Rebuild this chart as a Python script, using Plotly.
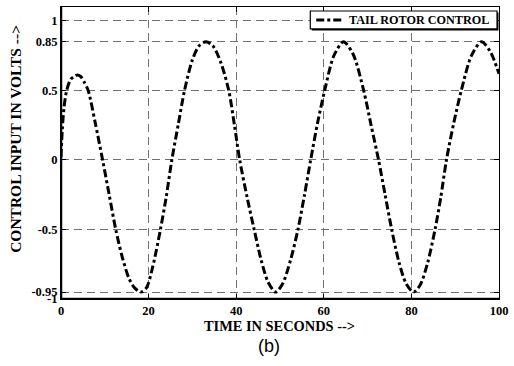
import plotly.graph_objects as go

# Tail rotor control input (volts) sampled over time (seconds)
time_s = [0.0, 0.3, 0.7, 1.3, 2.2, 3.0, 3.6, 4.5, 5.3, 6.2, 7.8, 9.5, 11.0, 12.5,
          14.0, 15.5, 16.8, 18.2, 19.5, 21.0, 22.7, 24.0, 25.3, 26.8, 28.2, 30.0,
          31.5, 33.1, 34.7, 36.5, 38.3, 39.6, 40.8, 42.5, 44.1, 45.7, 47.3, 49.0,
          50.6, 52.4, 54.1, 55.6, 57.0, 58.6, 60.2, 62.3, 64.5, 66.7, 69.1, 70.8,
          72.5, 74.0, 75.5, 77.2, 78.8, 80.5, 82.0, 83.7, 85.4, 86.7, 88.0, 89.7,
          91.4, 93.7, 96.0, 98.0, 100.0]
control_v = [0.02, 0.22, 0.38, 0.50, 0.58, 0.60, 0.61, 0.60, 0.56, 0.50, 0.27, 0.00,
             -0.25, -0.50, -0.70, -0.85, -0.92, -0.95, -0.92, -0.76, -0.50, -0.27,
             0.00, 0.26, 0.50, 0.72, 0.82, 0.85, 0.82, 0.70, 0.50, 0.25, 0.00,
             -0.27, -0.50, -0.72, -0.88, -0.95, -0.89, -0.72, -0.50, -0.25, 0.00,
             0.27, 0.50, 0.75, 0.85, 0.76, 0.50, 0.25, 0.00, -0.25, -0.50, -0.74,
             -0.89, -0.95, -0.90, -0.74, -0.50, -0.27, 0.00, 0.27, 0.50, 0.75,
             0.85, 0.78, 0.62]

y_ticks = [-1, -0.95, -0.5, 0, 0.5, 0.85, 1]
y_tick_text = ["-1", "-0.95", "-0.5", "0", "0.5", "0.85", "1"]
x_ticks = [0, 20, 40, 60, 80, 100]
x_tick_text = ["0", "20", "40", "60", "80", "100"]
series_name = "TAIL ROTOR CONTROL"

SERIF = "Liberation Serif"
LINE_STYLE = dict(color="black", width=3, dash="8px,3px,3px,3px")


def bold(s):
    return "<b>" + s + "</b>"


fig = go.Figure()
fig.add_trace(go.Scatter(
    x=time_s, y=control_v, mode="lines", name=series_name, showlegend=False,
    line=dict(**LINE_STYLE, shape="spline", smoothing=0.8),
))

grid = dict(showgrid=True, gridcolor="#707070", gridwidth=1, griddash="8px,5px")

fig.update_layout(
    width=514, height=366,
    margin=dict(l=61, r=12, t=6, b=67),
    paper_bgcolor="white", plot_bgcolor="white",
    font=dict(family=SERIF, color="black", size=12),
    xaxis=dict(
        range=[0, 100], tickmode="array", tickvals=x_ticks,
        ticktext=[bold(t) for t in x_tick_text],
        ticks="inside", ticklen=5, tickcolor="black", tickwidth=1,
        showline=True, linecolor="black", linewidth=1, mirror="allticks",
        tickfont=dict(family=SERIF, size=12.5, color="black"),
        zeroline=False, **grid,
    ),
    yaxis=dict(
        range=[-1, 1.1], tickmode="array", tickvals=y_ticks,
        ticktext=[bold(t) for t in y_tick_text],
        ticks="inside", ticklen=5, tickcolor="black", tickwidth=1,
        showline=True, linecolor="black", linewidth=1, mirror="allticks",
        tickfont=dict(family=SERIF, size=12.5, color="black"),
        zeroline=False, **grid,
    ),
)

# heavier left and bottom axis lines
fig.add_shape(type="line", xref="x", yref="paper", x0=0, x1=0, y0=0, y1=1,
              line=dict(color="black", width=2.5), layer="above")
fig.add_shape(type="line", xref="paper", yref="y", x0=0, x1=1, y0=-1, y1=-1,
              line=dict(color="black", width=2.5), layer="above")


# pixel -> paper helpers for the plot area (61..502 x, 6..299 y)
def px_x(p):
    return (p - 61) / 441


def px_y(p):
    return (299 - p) / 293


# legend box (with a small drop shadow), sample line and label
fig.add_shape(type="rect", xref="paper", yref="paper",
              x0=px_x(313.5), x1=px_x(501.5), y0=px_y(29.5), y1=px_y(11.5),
              fillcolor="black", line=dict(width=0), layer="above")
fig.add_shape(type="rect", xref="paper", yref="paper",
              x0=px_x(312), x1=px_x(500), y0=px_y(28), y1=px_y(10),
              fillcolor="white", line=dict(color="black", width=1.2), layer="above")
fig.add_shape(type="line", xref="paper", yref="paper",
              x0=px_x(318), x1=px_x(345), y0=px_y(19), y1=px_y(19),
              line=LINE_STYLE, layer="above")
fig.add_annotation(text=bold(series_name), xref="paper", yref="paper",
                   x=px_x(349), y=px_y(19.5), showarrow=False,
                   xanchor="left", yanchor="middle",
                   font=dict(family=SERIF, size=12.2, color="black"))

fig.add_annotation(text=bold("TIME IN SECONDS -->"), xref="paper", yref="paper",
                   x=px_x(281), y=px_y(326), showarrow=False, xanchor="center", yanchor="middle",
                   font=dict(family=SERIF, size=14.4, color="black"))
fig.add_annotation(text=bold("CONTROL INPUT IN VOLTS -->"), xref="paper", yref="paper",
                   x=px_x(15), y=px_y(138), showarrow=False, textangle=-90,
                   xanchor="center", yanchor="middle",
                   font=dict(family=SERIF, size=15.5, color="black"))
fig.add_annotation(text="(b)", xref="paper", yref="paper",
                   x=px_x(270), y=px_y(346), showarrow=False, xanchor="center", yanchor="middle",
                   font=dict(family="Liberation Sans", size=18, color="black"))

fig.write_html("out.html")
